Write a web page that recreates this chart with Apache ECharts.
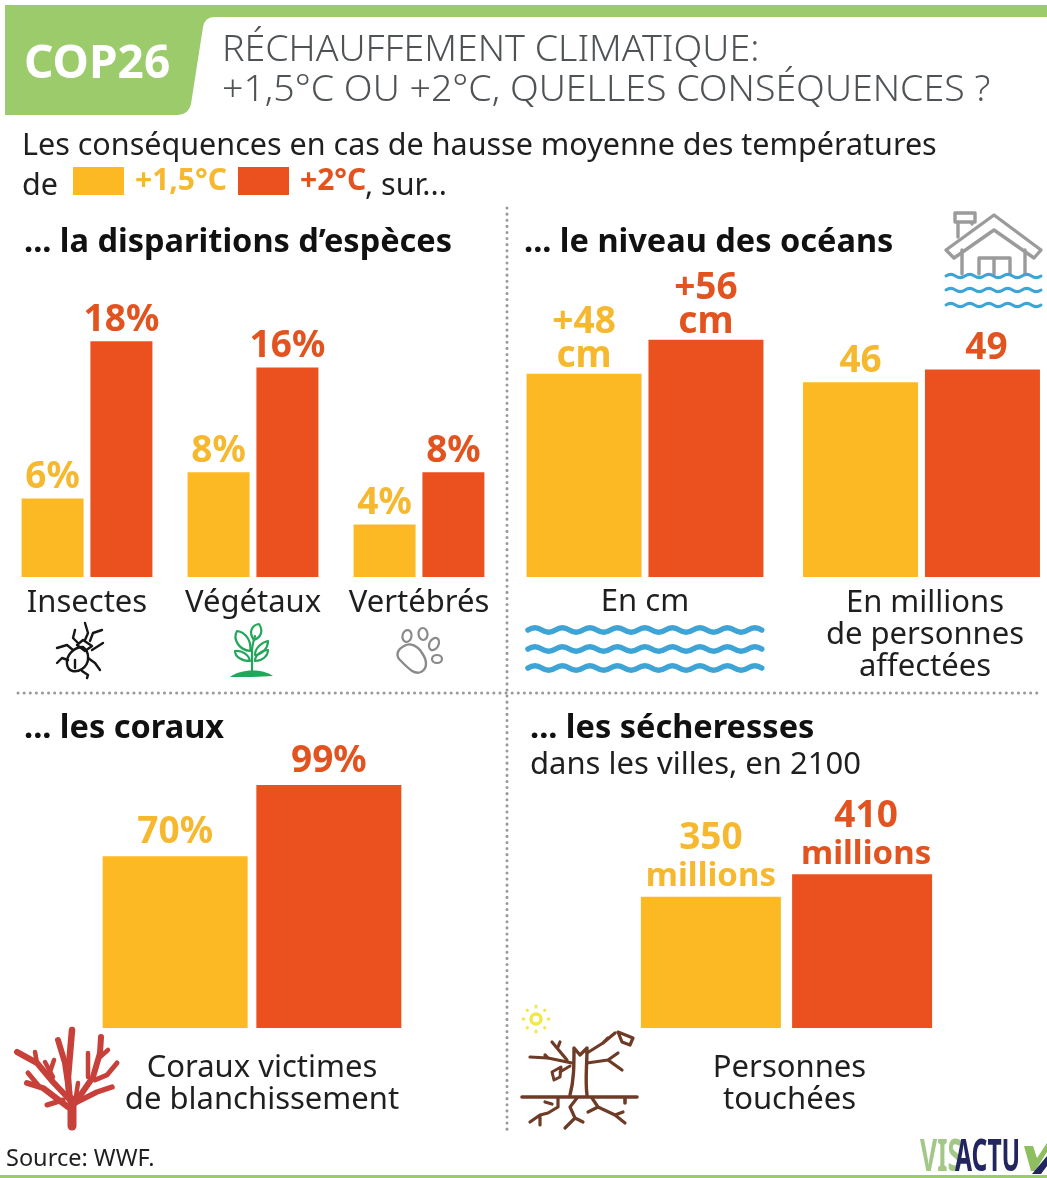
<!DOCTYPE html>
<html lang="fr">
<head>
<meta charset="utf-8">
<title>COP26 - Réchauffement climatique</title>
<script src="https://cdn.jsdelivr.net/npm/echarts@6/dist/echarts.min.js"></script>
<style>
  html, body { margin: 0; padding: 0; background: #fff; }
  #chart { width: 1047px; height: 1178px; }
</style>
</head>
<body>
<div id="chart"></div>
<script>
const especesCategories = ['Insectes', 'Végétaux', 'Vertébrés']
const especes15 = [6, 8, 4]
const especes2 = [18, 16, 8]

const oceansCmCategories = ['En cm']
const oceansCm15 = [48]
const oceansCm2 = [56]

const oceansPersCategories = ['En millions\nde personnes\naffectées']
const oceansPers15 = [46]
const oceansPers2 = [49]

const coraux15Categories = ['Coraux victimes\nde blanchissement']
const coraux15 = [70]
const coraux2 = [99]

const secheressesCategories = ['Personnes\ntouchées']
const secheresses15 = [350]
const secheresses2 = [410]

const NAME_15 = '+1,5°C'
const NAME_2 = '+2°C'
const YELLOW = '#fdb924'
const YELLOW_TEXT = '#f5b82e'
const RED = '#ea511f'
const RED_TEXT = '#e2531f'
const FONT = '"Noto Sans", sans-serif'
const GREEN = '#9ccb6c'

const grids = []
const xAxes = []
const yAxes = []
const series = []

const addPanel = (p) => {
  const i = grids.length
  grids.push({ left: p.left, width: p.width, top: p.bottom - p.max * p.scale, height: p.max * p.scale })
  xAxes.push({
    gridIndex: i,
    type: 'category',
    data: p.categories,
    axisLine: { show: false },
    axisTick: { show: false },
    axisLabel: {
      interval: 0,
      color: '#1f1f1f',
      fontFamily: FONT,
      fontSize: 31,
      lineHeight: 32,
      margin: p.margin,
      padding: p.labelPadding || 0,
    },
  })
  yAxes.push({ gridIndex: i, type: 'value', min: 0, max: p.max, show: false, splitLine: { show: false } })
  const makeBar = (name, data, color, textColor, offset) => ({
    name,
    type: 'bar',
    xAxisIndex: i,
    yAxisIndex: i,
    data,
    barWidth: p.barWidth,
    barGap: p.barGap,
    silent: true,
    itemStyle: { color },
    label: {
      show: true,
      position: 'top',
      distance: p.labelDistance,
      offset,
      formatter: p.format,
      color: textColor,
      fontFamily: FONT,
      fontWeight: 'bold',
      fontSize: 37,
      lineHeight: p.labelLine || 36,
      rich: p.rich ? p.rich(textColor) : undefined,
    },
  })
  series.push(makeBar(NAME_15, p.a, YELLOW, YELLOW_TEXT, [0, 0]))
  series.push(makeBar(NAME_2, p.b, RED, RED_TEXT, p.offsetB || [0, 0]))
}

addPanel({ left: 4, width: 498, bottom: 577, max: 20, scale: 13.1, categories: especesCategories, a: especes15, b: especes2,
  barWidth: 62, barGap: '11%', margin: 10, labelDistance: 3, format: '{c}%' })
addPanel({ left: 507, width: 276, bottom: 577, max: 60, scale: 4.235, categories: oceansCmCategories, a: oceansCm15, b: oceansCm2,
  barWidth: 115, barGap: '6%', margin: 9, labelDistance: 0, labelLine: 34, format: '+{c}\ncm' })
addPanel({ left: 803, width: 237, bottom: 577, max: 60, scale: 4.235, categories: oceansPersCategories, a: oceansPers15, b: oceansPers2,
  barWidth: 115, barGap: '6%', margin: 10, labelDistance: 3, labelPadding: [0, 0, 0, 7], offsetB: [4, 0], format: '{c}' })
addPanel({ left: 52, width: 400, bottom: 1028, max: 100, scale: 2.4545, categories: coraux15Categories, a: coraux15, b: coraux2,
  barWidth: 145, barGap: '6%', margin: 24, labelDistance: 6, labelPadding: [0, 0, 0, 20], format: '{c}%' })
addPanel({ left: 600, width: 373, bottom: 1028, max: 450, scale: 0.375, categories: secheressesCategories, a: secheresses15, b: secheresses2,
  barWidth: 140, barGap: '8%', margin: 24, labelDistance: 1, labelPadding: [0, 0, 0, 6], offsetB: [4, 0],
  format: '{v|{c}}\n{u|millions}',
  rich: (color) => ({
    v: { color, fontFamily: FONT, fontWeight: 'bold', fontSize: 37, lineHeight: 38 },
    u: { color, fontFamily: FONT, fontWeight: 'bold', fontSize: 33, lineHeight: 38 },
  }) })

// helpers pour les textes et pictos
const text = (x, y, str, font, fill, align) => ({
  type: 'text',
  style: { x, y, text: str, font, fill: fill || '#1f1f1f', textAlign: align || 'left', textVerticalAlign: 'middle' },
})
const narrowText = (x, y, str, font, fill, scaleX) => ({
  type: 'text',
  x,
  y,
  scaleX,
  style: { x: 0, y: 0, text: str, font, fill, textAlign: 'left', textVerticalAlign: 'middle' },
})
const stroke = (d, color, width) => ({
  type: 'path',
  shape: { pathData: d },
  style: { fill: 'none', stroke: color, lineWidth: width, lineCap: 'round', lineJoin: 'round' },
})
const fillPath = (d, color) => ({ type: 'path', shape: { pathData: d }, style: { fill: color } })
const ellipse = (cx, cy, rx, ry, rot, color, width) => ({
  type: 'path',
  x: cx,
  y: cy,
  rotation: rot,
  shape: { pathData: `M${-rx} 0 A${rx} ${ry} 0 1 0 ${rx} 0 A${rx} ${ry} 0 1 0 ${-rx} 0 Z` },
  style: { fill: 'none', stroke: color, lineWidth: width },
})
const dotted = (x1, y1, x2, y2) => ({
  type: 'line',
  shape: { x1, y1, x2, y2 },
  style: { stroke: '#9a9a9a', lineWidth: 3, lineCap: 'round', lineDash: [0.1, 6] },
})
const waves = (x1, x2, y, period, amp) => {
  let d = `M${x1} ${y}`
  let up = true
  for (let x = x1; x < x2; x += period / 2) {
    const dy = up ? -amp : amp
    d += ` Q${x + period / 4} ${y + dy * 2} ${x + period / 2} ${y}`
    up = !up
  }
  return d
}

const BODY = `400 30.5px ${FONT}`
const HEAD = `700 32.5px ${FONT}`
const NAVY = '#23265e'

const header = [
  fillPath('M5 5 H1047 V17 H214 Q205 17 203 27 L191 104 Q189 114 178 115 H5 Z', GREEN),
  text(24, 65, 'COP26', `700 46px ${FONT}`, '#ffffff'),
  text(222, 50, 'RÉCHAUFFEMENT CLIMATIQUE:', `300 37.5px ${FONT}`, '#4f5356'),
  text(222, 90, '+1,5°C OU +2°C, QUELLES CONSÉQUENCES ?', `300 37.5px ${FONT}`, '#4f5356'),
  text(22, 146, 'Les conséquences en cas de hausse moyenne des températures', BODY),
  text(22, 186, 'de', BODY),
  text(365, 186, ', sur...', BODY),
  text(24, 243, '... la disparitions d’espèces', HEAD, '#111'),
  text(524, 243, '... le niveau des océans', HEAD, '#111'),
  text(24, 729, '... les coraux', HEAD, '#111'),
  text(530, 729, '... les sécheresses', HEAD, '#111'),
  text(530, 765, 'dans les villes, en 2100', `400 31px ${FONT}`),
  text(6, 1159, 'Source: WWF.', `400 23.5px ${FONT}`),
  dotted(507, 208, 507, 1130),
  dotted(18, 693, 1042, 693),
  { type: 'rect', shape: { x: 0, y: 1175, width: 1047, height: 3 }, style: { fill: GREEN } },
  narrowText(920, 1158, 'VIS', `700 44px ${FONT}`, '#a3c788', 0.6),
  narrowText(955, 1158, 'ACTU', `700 44px ${FONT}`, NAVY, 0.56),
  fillPath('M1024 1146 L1033 1146 L1037 1158 L1047 1143 L1047 1152 L1035 1171 L1031 1171 Z', '#8dbf5e'),
  fillPath('M1032 1174 L1047 1156 L1047 1166 L1041 1174 Z', NAVY),
]

const BEETLE = '#161616'
const beetle = [
  stroke('M83 647 C90 652 90 664 82 669 C76 673 68 672 67 664 C66 655 74 647 83 647 Z M75 660 L75 668', BEETLE, 2.4),
  stroke('M77 645 L83 640 L92 646 L85 651 Z', BEETLE, 2.4),
  stroke('M78 643 L73 638 L75 630 M85 640 L88 633 L85 623 M90 641 L93 633 L102 630 M92 650 L103 643 M73 650 L67 645 L57 648 M68 660 L62 658 L57 663 M88 658 L95 663 L100 670 M82 671 L88 675 L87 678', BEETLE, 2.4),
]
const PLANT = '#22a659'
const plant = [
  fillPath('M230 677 C240 669 262 668 273 676 C260 677 245 677 230 677 Z', PLANT),
  stroke('M252 671 L252 651 C252 645 254 640 255 636', PLANT, 2.2),
  stroke('M254 640 C248 632 252 625 259 624 C263 630 262 637 254 640 Z', PLANT, 2.2),
  stroke('M250 651 C240 650 232 640 237 631 C246 632 252 642 250 651 Z', PLANT, 2.2),
  stroke('M255 655 C255 648 262 642 268 641 C268 648 262 655 255 655 Z', PLANT, 2.2),
  stroke('M250 661 C242 661 235 657 235 651 C242 650 249 655 250 661 Z', PLANT, 2.2),
  stroke('M255 661 C255 655 262 650 268 650 C268 656 262 661 255 661 Z', PLANT, 2.2),
]
const PAW = '#8a8a8a'
const paw = [
  stroke('M404 646 C410 642 418 646 422 653 C427 660 428 668 421 672 C414 675 408 668 400 660 C395 655 398 649 404 646 Z', PAW, 2.4),
  ellipse(407, 636, 4.5, 6, -0.2, PAW, 2.2),
  ellipse(423, 634, 4.5, 6, 0.1, PAW, 2.2),
  ellipse(434, 644, 4.5, 6.5, -0.5, PAW, 2.2),
  ellipse(437, 659, 5, 4, 0, PAW, 2.2),
]
const HOUSE = '#9b9b9b'
const WATER = '#3ea4d6'
const house = [
  stroke('M955 213 H975 V222 H955 Z M958 222 V237 M972 222 V224', HOUSE, 3.4),
  stroke('M946 250 L994 215 L1041 250 L1034 258 L994 230 L954 258 Z', HOUSE, 3.4),
  stroke('M962 250 V274 M1025 250 V274 M979 274 V258 H1010 V274 M994 258 V274', HOUSE, 3.4),
  stroke(waves(946, 1040, 276, 19, 1.6), WATER, 3),
  stroke(waves(946, 1040, 290, 19, 1.6), WATER, 3),
  stroke(waves(946, 1040, 305, 19, 1.6), WATER, 3),
]
const seaWaves = [
  stroke(waves(528, 750, 630, 27.5, 2.2), WATER, 5.5),
  stroke(waves(528, 750, 649, 27.5, 2.2), WATER, 5.5),
  stroke(waves(528, 750, 668, 27.5, 2.2), WATER, 5.5),
]
const CORAL = '#c7403a'
const coral = [
  stroke('M72 1126 L72 1100', CORAL, 9),
  stroke('M72 1104 L70 1097 L65 1063 L58 1040', CORAL, 6),
  stroke('M69 1092 L68 1077 L72 1030', CORAL, 6.5),
  stroke('M70 1100 L53 1082 L37 1063 L17 1052', CORAL, 6),
  stroke('M37 1063 L35 1052 M53 1077 L45 1062 M50 1072 L54 1060', CORAL, 4.5),
  stroke('M68 1107 L43 1088 L27 1083', CORAL, 6),
  stroke('M38 1085 L28 1073 M63 1100 L47 1105', CORAL, 5),
  stroke('M75 1103 L93 1077 L100 1053 L101 1037', CORAL, 6),
  stroke('M88 1077 L88 1053 M100 1057 L108 1050 M75 1103 L78 1083', CORAL, 4.5),
  stroke('M95 1080 L107 1075 L117 1063', CORAL, 5),
  stroke('M75 1103 L97 1092 L112 1087', CORAL, 5.5),
]
const BROWN = '#6e3b27'
const tree = [
  stroke('M522 1097 H637 M625 1097 V1103', BROWN, 3.6),
  stroke('M570 1095 C574 1080 574 1066 574 1048 L580 1055 L587 1048 C587 1066 585 1080 587 1095', BROWN, 3.4),
  stroke('M572 1063 L548 1058 L530 1057 M548 1058 L545 1055 M567 1060 L552 1042 M558 1047 L560 1042', BROWN, 3.2),
  stroke('M570 1066 L560 1072 M554 1080 L552 1072 L561 1067 L560 1077 Z', BROWN, 3),
  stroke('M587 1053 L603 1043 L615 1033 M603 1043 L608 1038 M618 1032 L633 1038 L630 1045 L622 1042 Z', BROWN, 3.2),
  stroke('M587 1063 L608 1060 L618 1053 M608 1060 L622 1070', BROWN, 3.2),
  stroke('M558 1098 L558 1107 L548 1113 L540 1115 L530 1122 M540 1115 L540 1125 M552 1104 L545 1102', BROWN, 3.2),
  stroke('M577 1098 L570 1107 L575 1118 L583 1122 M575 1118 L565 1128', BROWN, 3.2),
  stroke('M592 1098 L598 1107 L615 1115 L625 1123 M598 1107 L588 1112 M615 1115 L623 1112', BROWN, 3.2),
]
const SUN = '#f2e84a'
const sun = [
  ellipse(536, 1019, 5, 5, 0, SUN, 3.5),
  stroke('M536 1006 V1007 M536 1031 V1032 M523 1019 H524 M548 1019 H549 M527 1010 L527.5 1010.5 M545 1010 L544.5 1010.5 M527 1028 L527.5 1027.5 M545 1028 L544.5 1027.5', SUN, 3),
]

// textes et pictos: une serie custom sans repere, seule a accepter les paths
series.push({
  type: 'custom',
  coordinateSystem: 'none',
  silent: true,
  data: [0],
  renderItem: () => ({
    type: 'group',
    children: [...header, ...beetle, ...plant, ...paw, ...house, ...seaWaves, ...coral, ...tree, ...sun],
  }),
})

const chart = echarts.init(document.getElementById('chart'))

chart.setOption({
  animation: false,
  backgroundColor: '#ffffff',
  legend: {
    left: 73,
    top: 166,
    padding: 0,
    icon: 'rect',
    itemWidth: 51,
    itemHeight: 28,
    itemGap: 11,
    selectedMode: false,
    textStyle: { fontFamily: FONT, fontWeight: 'bold', fontSize: 30, padding: [10, 0, 0, 6] },
    data: [
      { name: NAME_15, textStyle: { color: YELLOW_TEXT } },
      { name: NAME_2, textStyle: { color: RED_TEXT } },
    ],
  },
  grid: grids,
  xAxis: xAxes,
  yAxis: yAxes,
  series,
})
</script>
</body>
</html>
